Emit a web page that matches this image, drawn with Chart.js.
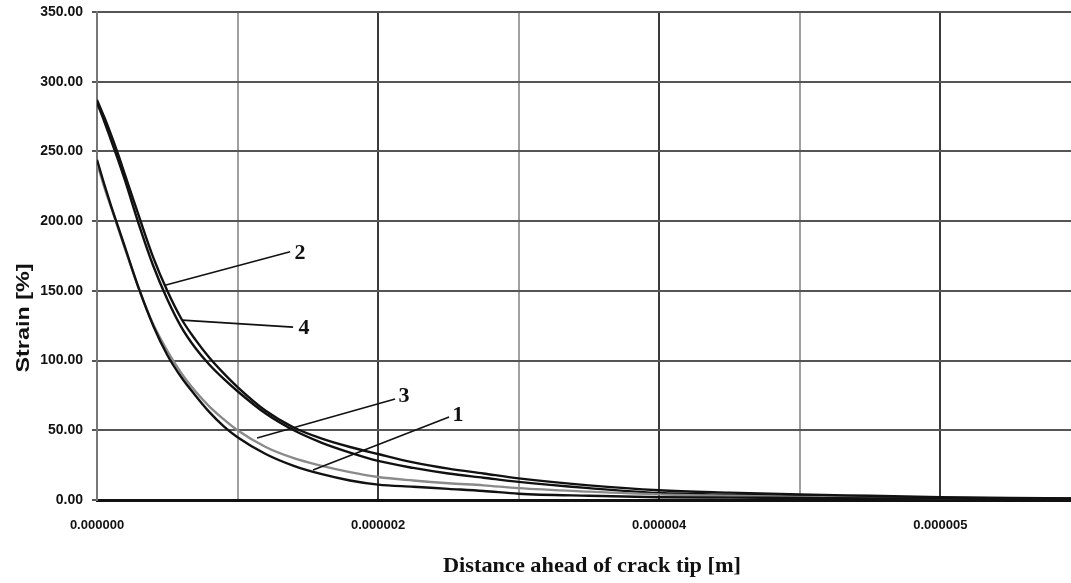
<!DOCTYPE html>
<html>
<head>
<meta charset="utf-8">
<script src="https://cdn.jsdelivr.net/npm/chart.js@4.4.0/dist/chart.umd.min.js"></script>
<style>
html,body{margin:0;padding:0;background:#fff;overflow:hidden;}
canvas{display:block;}
</style>
</head>
<body>
<canvas id="c" width="1071" height="583"></canvas>
<script>
// Distance ahead of crack tip [m]
const distance = [0, 0.05e-6, 0.1e-6, 0.15e-6, 0.2e-6, 0.3e-6, 0.4e-6, 0.5e-6, 0.6e-6, 0.7e-6, 0.8e-6, 0.9e-6, 1.0e-6, 1.2e-6, 1.4e-6, 1.6e-6, 1.8e-6, 2.0e-6, 2.25e-6, 2.5e-6, 2.75e-6, 3.0e-6, 3.5e-6, 4.0e-6, 4.5e-6, 5.0e-6, 5.5e-6, 6.0e-6, 6.5e-6, 7.0e-6];
// Strain [%] for each curve
const curve1 = [244, 227, 211, 196, 181, 151, 125, 104, 88, 75, 63, 53, 45, 33, 24.5, 18.5, 14, 11, 9.5, 8, 6.5, 4.5, 3, 2, 1.7, 1.5, 1.2, 1, 0.7, 0.5];
const curve2 = [287, 275, 262, 248, 233, 203, 174, 150, 130, 115, 102, 91, 81, 64, 52, 44, 38, 33, 27, 22.5, 19, 15.5, 10.5, 7, 5.3, 4, 3, 2, 1.5, 1];
const curve3 = [242, 225, 210, 195, 180, 151, 126, 107, 91, 78, 67, 58, 50, 38, 30, 24.5, 20, 16.5, 14, 12, 10.5, 8.5, 6, 4, 3, 2.2, 1.6, 1.2, 0.8, 0.5];
const curve4 = [285, 272, 258, 244, 229, 197, 168, 144, 124, 109, 97, 87, 78, 62, 50, 41, 34, 28, 23, 19, 16, 13, 8.5, 5, 3.8, 3, 2.2, 1.5, 1.2, 1];
const seriesNames = ['1', '2', '3', '4'];
// x-axis tick values and their labels (as printed)
const xTickValues = [0, 1e-6, 2e-6, 3e-6, 4e-6, 5e-6, 6e-6];
const xTickLabels = ['0.000000', '', '0.000002', '', '0.000004', '', '0.000005'];
const yTickValues = [0, 50, 100, 150, 200, 250, 300, 350];
// callout leaders (data coordinates): from point on curve -> end, label position
const callouts = [
  {label: '2', from: [0.484e-6, 154], to: [1.374e-6, 178], at: [1.445e-6, 177]},
  {label: '4', from: [0.605e-6, 129], to: [1.395e-6, 124], at: [1.473e-6, 123]},
  {label: '3', from: [1.139e-6, 44.5], to: [2.121e-6, 72.4], at: [2.185e-6, 74.6]},
  {label: '1', from: [1.537e-6, 21.5], to: [2.505e-6, 59.5], at: [2.569e-6, 61]}
];

const toPts = arr => arr.map((v, i) => ({x: distance[i], y: v}));
const colors = ['#111', '#111', '#8a8a8a', '#111'];
const seriesData = [curve1, curve2, curve3, curve4];

const decorPlugin = {
  id: 'decor',
  afterDatasetsDraw(chart) {
    const ctx = chart.ctx;
    const xs = chart.scales.x, ys = chart.scales.y;
    ctx.save();
    ctx.strokeStyle = '#111';
    ctx.lineWidth = 1.6;
    ctx.fillStyle = '#111';
    ctx.font = 'bold 22px "Liberation Serif", serif';
    ctx.textAlign = 'center';
    ctx.textBaseline = 'middle';
    callouts.forEach(c => {
      ctx.beginPath();
      ctx.moveTo(xs.getPixelForValue(c.from[0]), ys.getPixelForValue(c.from[1]));
      ctx.lineTo(xs.getPixelForValue(c.to[0]), ys.getPixelForValue(c.to[1]));
      ctx.stroke();
      ctx.fillText(c.label, xs.getPixelForValue(c.at[0]), ys.getPixelForValue(c.at[1]));
    });
    ctx.restore();
  },
  afterDraw(chart) {
    const ctx = chart.ctx;
    ctx.save();
    ctx.fillStyle = '#111';
    // x title
    const xt = 'Distance ahead of crack tip [m]';
    ctx.font = 'bold 21px "Liberation Serif", serif';
    let w = ctx.measureText(xt).width;
    ctx.translate(592, 572);
    ctx.scale(298 / w, 1);
    ctx.textAlign = 'center';
    ctx.textBaseline = 'alphabetic';
    ctx.fillText(xt, 0, 0);
    ctx.restore();
    // y title
    ctx.save();
    ctx.fillStyle = '#111';
    const yt = 'Strain [%]';
    ctx.font = 'bold 19px "Liberation Sans", sans-serif';
    w = ctx.measureText(yt).width;
    ctx.translate(29, 318);
    ctx.rotate(-Math.PI / 2);
    ctx.scale(109 / w, 1);
    ctx.textAlign = 'center';
    ctx.textBaseline = 'alphabetic';
    ctx.fillText(yt, 0, 0);
    ctx.restore();
  }
};

new Chart(document.getElementById('c'), {
  type: 'scatter',
  data: {
    datasets: seriesData.map((d, i) => ({
      label: seriesNames[i],
      data: toPts(d),
      showLine: true,
      borderColor: colors[i],
      borderWidth: 2.4,
      pointRadius: 0,
      cubicInterpolationMode: 'monotone',
      fill: false
    }))
  },
  options: {
    responsive: false,
    animation: false,
    devicePixelRatio: 1,
    layout: {padding: {top: 12, left: 0, right: 0, bottom: 0}},
    plugins: {legend: {display: false}, tooltip: {enabled: false}},
    scales: {
      x: {
        type: 'linear',
        min: 0,
        max: 6.93e-6,
        afterBuildTicks: s => { s.ticks = xTickValues.map(v => ({value: v})); },
        afterFit: s => { s.height = 83; s.paddingRight = 0; },
        border: {color: '#111', width: 3},
        grid: {
          drawTicks: false,
          lineWidth: 2,
          color: c => (c.index % 2 === 0 ? '#3a3a3a' : '#a0a0a0')
        },
        ticks: {
          autoSkip: false,
          maxRotation: 0,
          padding: 18,
          color: '#111',
          font: {family: '"Liberation Sans", sans-serif', size: 13, weight: 'bold'},
          callback: (v, i) => xTickLabels[i]
        }
      },
      y: {
        min: 0,
        max: 350,
        afterBuildTicks: s => { s.ticks = yTickValues.map(v => ({value: v})); },
        afterFit: s => { s.width = 97; s.paddingTop = 0; s.paddingBottom = 0; },
        border: {color: '#777', width: 2},
        grid: {
          lineWidth: 2,
          color: '#555',
          tickLength: 5,
          tickColor: '#555'
        },
        ticks: {
          padding: 9,
          color: '#111',
          font: {family: '"Liberation Sans", sans-serif', size: 14, weight: 'bold'},
          callback: v => v.toFixed(2)
        }
      }
    }
  },
  plugins: [decorPlugin]
});
</script>
</body>
</html>
